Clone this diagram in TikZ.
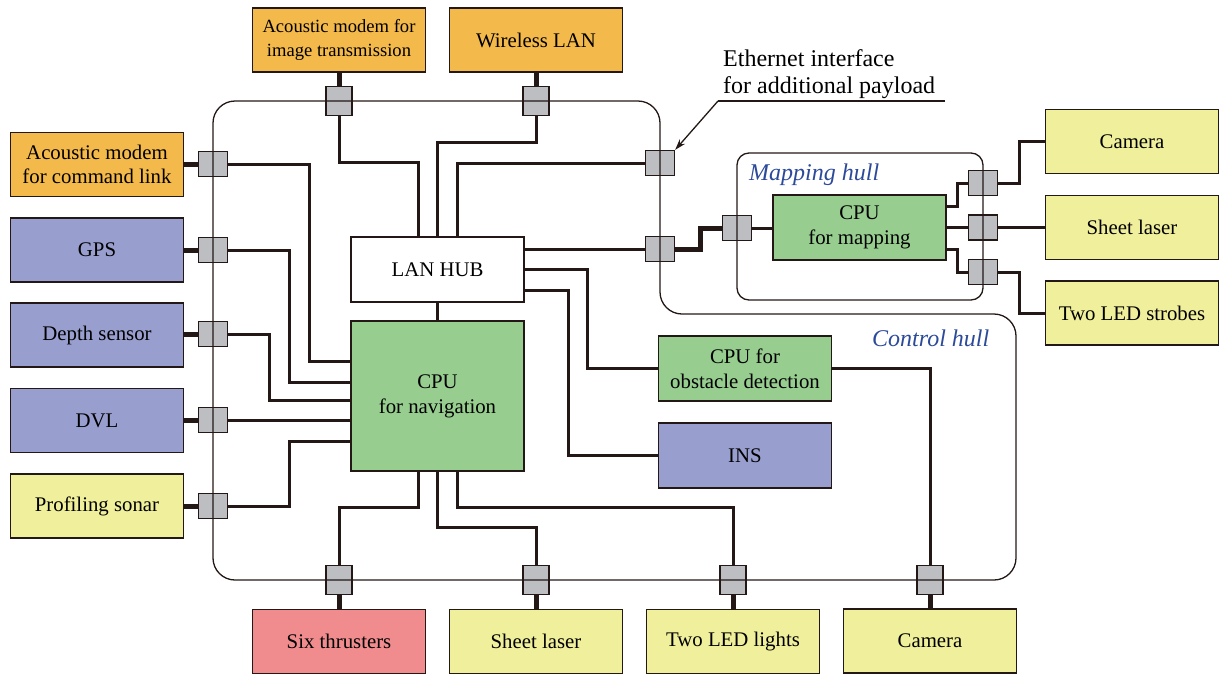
\documentclass[tikz,border=0pt]{standalone}
\usepackage{fontspec}
\setmainfont{Liberation Serif}
\usetikzlibrary{arrows.meta,backgrounds}
\definecolor{corange}{HTML}{F4B94B}
\definecolor{cblue}{HTML}{989FCF}
\definecolor{cgreen}{HTML}{97CE90}
\definecolor{cyellow}{HTML}{F0EF9B}
\definecolor{cred}{HTML}{F08C8E}
\definecolor{cport}{HTML}{BDBEC2}
\definecolor{cline}{HTML}{231815}
\definecolor{ctext}{HTML}{2C4A9A}
\begin{document}
\begin{tikzpicture}[x=1pt,y=-1pt,
  box/.style={draw=cline, line width=1.3pt, inner sep=0pt, minimum width=173pt, minimum height=64pt, align=center, font=\fontsize{20.8}{25}\selectfont},
  port/.style={draw=cline, fill=cport, line width=1.3pt, inner sep=0pt},
  hport/.style={port, minimum width=29pt, minimum height=25pt},
  vport/.style={port, minimum width=26pt, minimum height=29pt},
  link/.style={line width=3pt, draw=cline},
  ext/.style={line width=5pt, draw=cline},
  hull/.style={line width=1.3pt, draw=cline, rounded corners=22pt},
  hulllabel/.style={text=ctext, font=\fontsize{24}{27}\selectfont\itshape, inner sep=0pt}
]
\useasboundingbox (0,0) rectangle (1219,675);

% external boxes
\node[box, fill=corange, font=\fontsize{18.6}{24}\selectfont] (img) at (339,40) {Acoustic modem for\\image transmission};
\node[box, fill=corange] (wlan) at (536,40) {Wireless LAN};
\node[box, fill=corange, font=\fontsize{20.8}{24.4}\selectfont] (cmd) at (97,164.5) {Acoustic modem\\for command link};
\node[box, fill=cblue] (gps) at (97,250) {GPS};
\node[box, fill=cblue] (depth) at (97,335) {Depth sensor};
\node[box, fill=cblue] (dvl) at (97,420.5) {DVL};
\node[box, fill=cyellow] (sonar) at (97,506) {Profiling sonar};
\node[box, fill=cred] (thr) at (339,641.5) {Six thrusters};
\node[box, fill=cyellow] (blaser) at (536,641.5) {Sheet laser};
\node[box, fill=cyellow] (lights) at (733,641.5) {Two LED lights};
\node[box, fill=cyellow] (bcam) at (930,641) {Camera};
\node[box, fill=cyellow] (rcam) at (1132,141.5) {Camera};
\node[box, fill=cyellow] (rlaser) at (1132,227.5) {Sheet laser};
\node[box, fill=cyellow] (strobe) at (1132,313) {Two LED strobes};

% internal boxes
\node[box, fill=white, minimum height=65pt] (hub) at (437.5,269.5) {LAN HUB};
\node[box, fill=cgreen, minimum height=150pt] (nav) at (437.5,396) {CPU\\for navigation};
\node[box, fill=cgreen, minimum height=65pt] (obs) at (745,368.5) {CPU for\\obstacle detection};
\node[box, fill=cblue, minimum height=65pt] (ins) at (745,455.5) {INS};
\node[box, fill=cgreen, minimum height=65pt] (map) at (859.5,227.5) {CPU\\for mapping};

% ports
\node[vport] (pt1) at (339,101) {};
\node[vport] (pt2) at (536,101) {};
\node[hport] (pl1) at (213,164) {};
\node[hport] (pl2) at (213,250) {};
\node[hport] (pl3) at (213,334) {};
\node[hport] (pl4) at (213,420) {};
\node[hport] (pl5) at (213,506) {};
\node[hport] (peth) at (660,163) {};
\node[hport] (plan) at (660,249) {};
\node[vport] (pb1) at (339,580) {};
\node[vport] (pb2) at (536,580) {};
\node[vport] (pb3) at (733,580) {};
\node[vport] (pb4) at (930,580) {};
\node[hport] (pm0) at (737,228) {};
\node[hport] (pm1) at (983,183) {};
\node[hport] (pm2) at (983,227.5) {};
\node[hport] (pm3) at (983,272) {};

\begin{pgfonlayer}{background}
% external thick links
\draw[ext] (img.south) -- (pt1.north);
\draw[ext] (wlan.south) -- (pt2.north);
\draw[ext] (cmd.east |- pl1) -- (pl1.west);
\draw[ext] (gps.east |- pl2) -- (pl2.west);
\draw[ext] (depth.east |- pl3) -- (pl3.west);
\draw[ext] (dvl.east |- pl4) -- (pl4.west);
\draw[ext] (sonar.east |- pl5) -- (pl5.west);
\draw[ext] (pb1.south) -- (thr.north);
\draw[ext] (pb2.south) -- (blaser.north);
\draw[ext] (pb3.south) -- (lights.north);
\draw[ext] (pb4.south) -- (bcam.north);
% internal links
\draw[link] (pt1.south) |- (418,162) -- ([xshift=-19.5pt]hub.north);
\draw[link] (pt2.south) |- (437.5,142) -- (hub.north);
\draw[link] (peth.west) -| ([xshift=19.5pt]hub.north);
\draw[link] (hub.east |- plan.west) -- (plan.west);
\draw[link] (hub.east) -- (587,269.5) |- (obs.west);
\draw[link] ([yshift=-20.5pt]hub.east) -- (568,290) |- (ins.west);
\draw[link] (hub.south) -- (nav.north);
\draw[link] (pl1.east) -- (309,164) |- ([yshift=35pt]nav.west);
\draw[link] (pl2.east) -- (289,250) |- ([yshift=14pt]nav.west);
\draw[link] (pl3.east) -- (269,334) |- ([yshift=-4pt]nav.west);
\draw[link] (pl4.east) -- (nav.west |- pl4.east);
\draw[link] (pl5.east) -- (289,506) |- ([yshift=-45pt]nav.west);
\draw[link] ([xshift=-19.5pt]nav.south) |- (339,507) -- (pb1.north);
\draw[link] (nav.south) |- (536,527) -- (pb2.north);
\draw[link] ([xshift=19.5pt]nav.south) |- (733,507) -- (pb3.north);
\draw[link] (obs.east) -| (pb4.north);
% mapping hull links
\draw[ext] (plan.east) -- (700,249) |- (pm0.west);
\draw[link] (pm0.east) -- (map.west |- pm0.east);
\draw[link] ([yshift=21.5pt]map.east) -- (957,206) |- (pm1.west);
\draw[link] (map.east) -- (pm2.west);
\draw[link] ([yshift=-21.5pt]map.east) -- (957,249) |- (pm3.west);
\draw[link] (pm1.east) -- (1019,183) |- (rcam.west);
\draw[link] (pm2.east) -- (rlaser.west);
\draw[link] (pm3.east) -- (1019,272) |- (strobe.west);
\end{pgfonlayer}

% hull outlines
\draw[hull] (213,340) -- (213,101) -- (660,101) -- (660,314) -- (1016,314) -- (1016,580) -- (213,580) -- cycle;
\draw[line width=1.3pt, draw=cline, rounded corners=12pt] (737,153) rectangle (983,300);

% labels
\node[hulllabel, anchor=base west] (lmap) at (749,180) {Mapping hull};
\node[hulllabel, anchor=base west] (lctl) at (872,346) {Control hull};
\node[inner sep=0pt, anchor=south west, align=left, font=\fontsize{24}{27}\selectfont] (eth) at (723,98.5) {Ethernet interface\\for additional payload};
\coordinate (ethl) at (718,101);
\draw[line width=1.3pt, draw=cline] (945,101) -- (ethl);
\draw[line width=1.3pt, draw=cline, -{Stealth[length=11pt,width=7pt]}] (ethl) -- (peth.north east);
\end{tikzpicture}
\end{document}
